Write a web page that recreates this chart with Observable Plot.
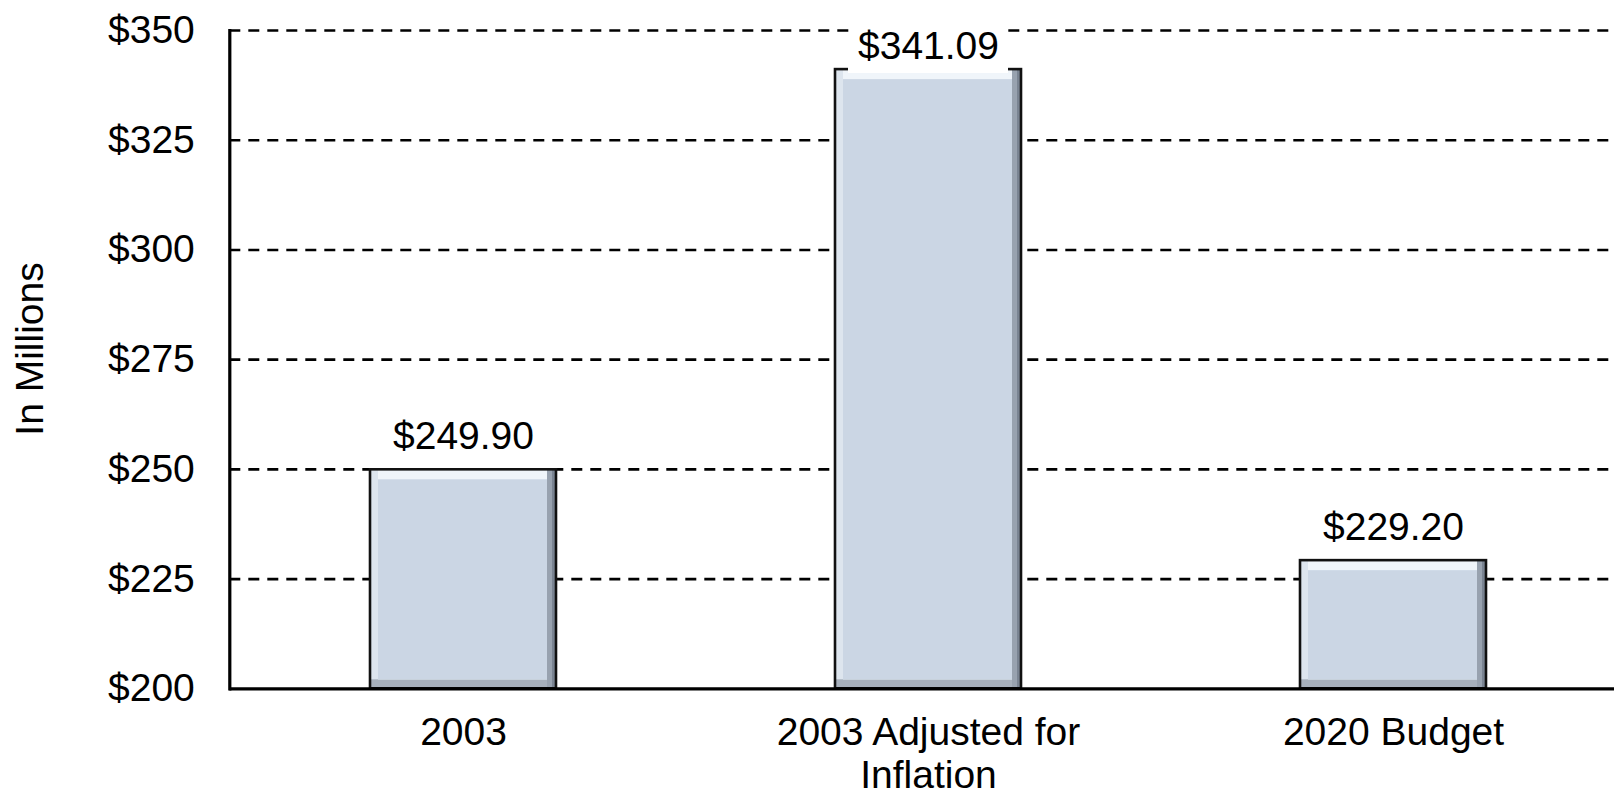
<!DOCTYPE html>
<html><head><meta charset="utf-8">
<script src="https://cdn.jsdelivr.net/npm/d3@7"></script>
<script src="https://cdn.jsdelivr.net/npm/@observablehq/plot@0.6"></script>
<style>html,body{margin:0;padding:0;background:#fff;overflow:hidden;} svg{display:block}</style>
</head><body><div id="chart"></div>
<script>
const categories = ["2003", "2003 Adjusted for Inflation", "2020 Budget"];
const values = [249.90, 341.09, 229.20];
const valueLabels = ["$249.90", "$341.09", "$229.20"];
const xTickLabels = ["2003", "2003 Adjusted for\nInflation", "2020 Budget"];
const yTicks = [200, 225, 250, 275, 300, 325, 350];
const yTickLabels = ["$200", "$225", "$250", "$275", "$300", "$325", "$350"];
const yLabel = "In Millions";

const data = categories.map((c, i) => ({category: c, value: values[i], label: valueLabels[i]}));
const base = yTicks[0];
const bar = (opts) => Plot.barY(data, {x: "category", y1: () => base, y2: "value", ...opts});
const FS = 39;
const isTop = d => d.value >= 335;

const chart = Plot.plot({
  width: 1614, height: 795,
  marginTop: 30, marginBottom: 106.7, marginLeft: 229.3, marginRight: -12,
  style: {fontFamily: "'Liberation Sans', Arial, sans-serif", fontSize: FS + "px", background: "white", overflow: "hidden", color: "black"},
  x: {domain: categories, paddingInner: 0.6, paddingOuter: 0.3},
  y: {domain: [yTicks[0], yTicks[yTicks.length - 1]]},
  marks: [
    Plot.ruleY(yTicks.slice(1), {stroke: "#000", strokeWidth: 2.6, strokeDasharray: "11,8"}),
    bar({fill: "#7a8492"}),
    bar({fill: "#98a2af", insetRight: 4}),
    bar({fill: "#a7b0bc", insetRight: 9}),
    bar({fill: "#dde5ee", insetRight: 9, insetBottom: 9}),
    bar({fill: "#f0f5fa", insetRight: 9, insetBottom: 9, insetLeft: 8}),
    bar({fill: "#cbd6e4", insetRight: 9, insetBottom: 9, insetLeft: 8, insetTop: 10}),
    bar({fill: "none", stroke: "#111", strokeWidth: 2.6}),
    Plot.ruleY([base], {stroke: "#000", strokeWidth: 3.2}),
    Plot.frame({anchor: "left", stroke: "#000", strokeWidth: 3.2}),
    Plot.axisY({ticks: yTicks, tickFormat: d => yTickLabels[yTicks.indexOf(d)], tickSize: 0, tickPadding: 35, label: null, fontSize: FS}),
    Plot.axisX({tickSize: 0, tickPadding: 25, tickFormat: d => xTickLabels[categories.indexOf(d)], label: null, lineHeight: 1.12, fontSize: FS}),
    Plot.text(data, {filter: d => !isTop(d), x: "category", y: "value", text: "label", lineAnchor: "bottom", dy: -21, fontSize: FS, fill: "black"}),
    Plot.tickY(data, {filter: isTop, x: "category", y: "value", stroke: "white", strokeWidth: 9, insetLeft: 13, insetRight: 13, dy: -1}),
    Plot.text(data, {filter: isTop, x: "category", frameAnchor: "top", text: "label", lineAnchor: "top", dy: 1, fontSize: FS, fill: "black", stroke: "white", strokeWidth: 22, strokeLinejoin: "round", paintOrder: "stroke"}),
    Plot.text([yLabel], {frameAnchor: "left", rotate: -90, dx: -199, dy: 76, fontSize: FS, fill: "black"})
  ]
});
document.getElementById("chart").appendChild(chart);
</script>
</body></html>
